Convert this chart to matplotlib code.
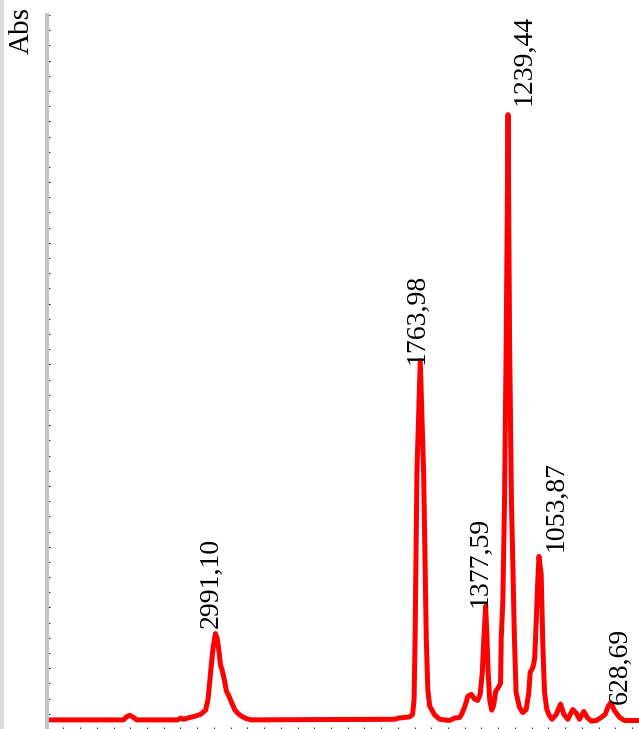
import matplotlib
matplotlib.use("Agg")
import matplotlib.pyplot as plt
import matplotlib.patches as patches
from matplotlib.ticker import MultipleLocator

# spectrum (wavenumber in cm-1, absorbance)
wavenumber = [
    4000, 3540, 3522, 3504, 3486, 3462, 3217, 3199, 3181, 3157,
    3115, 3080, 3050, 3035, 3017, 3005, 2991, 2979, 2970, 2961,
    2949, 2937, 2925, 2910, 2895, 2876, 2858, 2835, 2805, 2775,
    1920, 1896, 1860, 1830, 1812, 1803, 1797, 1786, 1766, 1746,
    1730, 1721, 1710, 1680, 1650, 1591, 1561, 1531, 1519, 1501,
    1481, 1461, 1441, 1423, 1408, 1395, 1386, 1375, 1367, 1360,
    1351, 1339, 1327, 1315, 1298, 1286, 1282, 1272, 1262, 1252,
    1241, 1232, 1221, 1213, 1203, 1193, 1173, 1153, 1133, 1117,
    1109, 1093, 1082, 1072, 1063, 1056, 1043, 1033, 1023, 1009,
    996, 978, 953, 927, 907, 884, 854, 833, 814, 788,
    768, 744, 714, 684, 660, 643, 628, 616, 604, 574,
    544, 460,
]
absorbance = [
    0.015, 0.015, 0.020, 0.0225, 0.020, 0.015, 0.015, 0.018, 0.016, 0.018,
    0.021, 0.024, 0.031, 0.049, 0.101, 0.134, 0.157, 0.147, 0.128, 0.106,
    0.095, 0.080, 0.062, 0.054, 0.044, 0.032, 0.026, 0.021, 0.017, 0.015,
    0.016, 0.018, 0.019, 0.020, 0.024, 0.049, 0.148, 0.422, 0.606, 0.422,
    0.148, 0.065, 0.038, 0.023, 0.016, 0.014, 0.018, 0.019, 0.024, 0.036,
    0.054, 0.057, 0.049, 0.047, 0.057, 0.093, 0.148, 0.202, 0.148, 0.093,
    0.049, 0.031, 0.039, 0.062, 0.069, 0.075, 0.148, 0.213, 0.378, 0.641,
    1.011, 0.641, 0.378, 0.279, 0.148, 0.060, 0.036, 0.027, 0.032, 0.060,
    0.093, 0.101, 0.115, 0.180, 0.246, 0.284, 0.254, 0.137, 0.060, 0.032,
    0.023, 0.016, 0.024, 0.041, 0.024, 0.016, 0.032, 0.026, 0.016, 0.029,
    0.019, 0.013, 0.014, 0.019, 0.024, 0.037, 0.043, 0.037, 0.030, 0.019,
    0.014, 0.014,
]

# labelled peaks
peak_wn = [2991.10, 1763.98, 1377.59, 1239.44, 1053.87, 628.69]
peak_abs = [0.157, 0.606, 0.202, 1.011, 0.284, 0.043]

# label offsets in pixels (dx, dy)
label_offsets = [(-4, 6), (-4, -3), (-5, -1), (16, 10), (17, 5), (10, -1)]

FONT = ["Liberation Serif", "DejaVu Serif"]

fig = plt.figure(figsize=(6.39, 7.29), dpi=100)
W, H = 639.0, 729.0

# grey strip on the left edge
fig.patches.append(patches.Rectangle((0, 0), 4 / W, 1, transform=fig.transFigure,
                                     facecolor="#dadddd", edgecolor="none"))

ax = fig.add_axes([46.7 / W, 0, (W - 46.7) / W, (H - 15) / H])
ax.plot(wavenumber, absorbance, color="#ff0000", linewidth=3.6,
        solid_joinstyle="round", solid_capstyle="round")

ax.set_xlim(4000, 458)
ax.set_ylim(0, 1.175)

for s in ["top", "right", "bottom"]:
    ax.spines[s].set_visible(False)
ax.spines["left"].set_color("#c4c4c4")
ax.spines["left"].set_linewidth(2.9)

ax.yaxis.set_major_locator(MultipleLocator(0.1))
ax.yaxis.set_minor_locator(MultipleLocator(0.025))
ax.xaxis.set_major_locator(MultipleLocator(100))
ax.tick_params(axis="y", which="major", direction="inout", length=3.6, width=0.8,
               color="black", labelleft=False)
ax.tick_params(axis="y", which="minor", direction="in", length=1.8, width=0.8,
               color="#333333")
ax.tick_params(axis="x", which="major", direction="in", length=1.6, width=0.8,
               color="#333333", labelbottom=False)

for w, a, (dx, dy) in zip(peak_wn, peak_abs, label_offsets):
    ax.annotate(f"{w:.2f}".replace(".", ","), xy=(w, a), xytext=(dx, dy),
                textcoords="offset pixels", rotation=90, ha="center", va="bottom",
                fontsize=20, family=FONT, color="black")

fig.text(22 / W, 1 - 7 / H, "Abs", rotation=90, ha="center", va="top",
         fontsize=21, family=FONT)

fig.savefig("out.png", dpi=100)
